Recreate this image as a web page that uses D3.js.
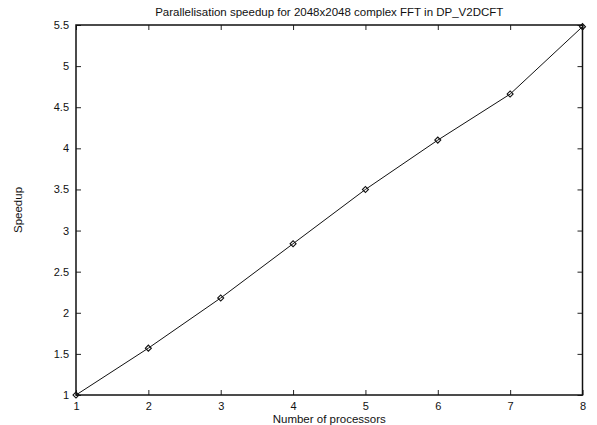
<!DOCTYPE html>
<html>
<head>
<meta charset="utf-8">
<script src="https://cdn.jsdelivr.net/npm/d3@7/dist/d3.min.js"></script>
<style>
  body { margin:0; background:#fff; }
  svg text { font-family: "Liberation Sans", Arial, sans-serif; font-size:11.5px; fill:#111; }
</style>
</head>
<body>
<div id="plot"></div>
<script>
// speedup vs processors
var processors = [1,2,3,4,5,6,7,8];
var speedup = [1.0,1.57,2.18,2.84,3.50,4.10,4.66,5.48];
var xTicks = [1,2,3,4,5,6,7,8];
var yTicks = [1,1.5,2,2.5,3,3.5,4,4.5,5,5.5];

var W = 597, H = 425;
var margin = {t:25,r:14.5,b:30,l:76};
var width = W-margin.l-margin.r,
	height = H-margin.t-margin.b;

var svg = d3.select('#plot')
	.append('svg')
	.attr('width',W)
	.attr('height',H);

var plot = svg.append('g')
	.attr('transform','translate('+margin.l+','+margin.t+')');

var scaleX = d3.scaleLinear().domain([1,8]).range([0,width]);
var scaleY = d3.scaleLinear().domain([1,5.5]).range([height,0]);

// ticks on all four sides, pointing inward
var tk = 5;
var xAx = plot.append('g')
	.attr('transform','translate(0,'+height+')')
	.call(d3.axisBottom(scaleX).tickValues(xTicks).tickSize(-tk).tickFormat(d3.format('d')))
	.call(function(g){ g.select('.domain').remove(); });
xAx.selectAll('.tick text').attr('y',14.5).attr('dy',null);

plot.append('g')
	.call(d3.axisTop(scaleX).tickValues(xTicks).tickSize(-tk).tickFormat(''))
	.call(function(g){ g.select('.domain').remove(); });
plot.append('g')
	.call(d3.axisLeft(scaleY).tickValues(yTicks).tickSize(-tk).tickPadding(tk+2).tickFormat(d3.format('')))
	.call(function(g){ g.select('.domain').remove(); });
plot.append('g')
	.attr('transform','translate('+width+',0)')
	.call(d3.axisRight(scaleY).tickValues(yTicks).tickSize(-tk).tickFormat(''))
	.call(function(g){ g.select('.domain').remove(); });

plot.selectAll('.tick line').attr('stroke','#222');
plot.selectAll('.tick text').style('font-size','11px').attr('fill','#111');

plot.append('rect')
	.attr('width',width)
	.attr('height',height)
	.attr('fill','none')
	.attr('stroke','#111')
	.attr('stroke-width',1.5);

var pts = processors.map(function(p,i){ return {p:p, s:speedup[i]}; });

var line = d3.line()
	.x(function(d){ return scaleX(d.p); })
	.y(function(d){ return scaleY(d.s); });

plot.append('path')
	.datum(pts)
	.attr('d',line)
	.attr('fill','none')
	.attr('stroke','#111')
	.attr('stroke-width',1);

plot.selectAll('.pt')
	.data(pts)
	.enter()
	.append('path')
	.attr('class','pt')
	.attr('transform',function(d){ return 'translate('+scaleX(d.p)+','+scaleY(d.s)+') rotate(45)'; })
	.attr('d',d3.symbol().type(d3.symbolSquare).size(18))
	.attr('fill','none')
	.attr('stroke','#111')
	.attr('stroke-width',1.1);

svg.append('text')
	.attr('x',margin.l+width/2)
	.attr('y',16)
	.attr('text-anchor','middle')
	.text('Parallelisation speedup for 2048x2048 complex FFT in DP_V2DCFT');

svg.append('text')
	.attr('x',margin.l+width/2)
	.attr('y',422.5)
	.attr('text-anchor','middle')
	.text('Number of processors');

svg.append('text')
	.attr('transform','translate(22,'+(margin.t+height/2)+') rotate(-90)')
	.attr('text-anchor','middle')
	.text('Speedup');
</script>
</body>
</html>
